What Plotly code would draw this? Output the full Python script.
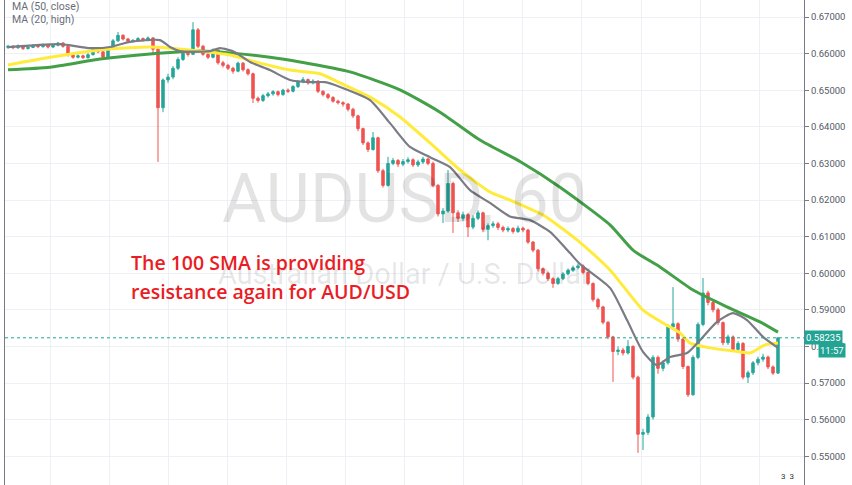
import plotly.graph_objects as go

# ---------------- data (AUD/USD, 60 min candles) ----------------
open_ = [0.6617, 0.6620, 0.6616, 0.6621, 0.6614, 0.6617, 0.6622, 0.6619, 0.6624, 0.6618,
         0.6623, 0.6629, 0.6620, 0.6596, 0.6590, 0.6594, 0.6589, 0.6597, 0.6612, 0.6605,
         0.6591, 0.6612, 0.6635, 0.6650, 0.6640, 0.6634, 0.6636, 0.6641, 0.6637, 0.6643,
         0.6612, 0.6452, 0.6528, 0.6536, 0.6560, 0.6584, 0.6601, 0.6598, 0.6665, 0.6620,
         0.6598, 0.6590, 0.6610, 0.6575, 0.6568, 0.6560, 0.6552, 0.6574, 0.6556, 0.6545,
         0.6478, 0.6472, 0.6485, 0.6490, 0.6496, 0.6488, 0.6500, 0.6497, 0.6510, 0.6524,
         0.6529, 0.6520, 0.6525, 0.6497, 0.6488, 0.6480, 0.6470, 0.6466, 0.6462, 0.6448,
         0.6430, 0.6395, 0.6356, 0.6338, 0.6370, 0.6280, 0.6240, 0.6300, 0.6308, 0.6298,
         0.6305, 0.6310, 0.6296, 0.6304, 0.6312, 0.6300, 0.6240, 0.6162, 0.6170, 0.6245,
         0.6165, 0.6150, 0.6160, 0.6126, 0.6150, 0.6165, 0.6120, 0.6130, 0.6135, 0.6125,
         0.6118, 0.6122, 0.6114, 0.6123, 0.6118, 0.6085, 0.6063, 0.6012, 0.6000, 0.5985,
         0.5972, 0.5985, 0.5998, 0.6008, 0.6015, 0.6020, 0.6002, 0.5972, 0.5928, 0.5908,
         0.5866, 0.5826, 0.5786, 0.5790, 0.5782, 0.5800, 0.5716, 0.5560, 0.5565, 0.5607,
         0.5770, 0.5740, 0.5755, 0.5853, 0.5862, 0.5820, 0.5745, 0.5668, 0.5770, 0.5860,
         0.5946, 0.5920, 0.5900, 0.5865, 0.5810, 0.5826, 0.5792, 0.5808, 0.5716, 0.5728,
         0.5755, 0.5765, 0.5771, 0.5744, 0.5727]

close = [0.6620, 0.6616, 0.6621, 0.6614, 0.6617, 0.6622, 0.6619, 0.6624, 0.6618, 0.6623,
         0.6629, 0.6620, 0.6596, 0.6590, 0.6594, 0.6589, 0.6597, 0.6612, 0.6605, 0.6591,
         0.6612, 0.6635, 0.6650, 0.6640, 0.6634, 0.6636, 0.6641, 0.6637, 0.6643, 0.6612,
         0.6452, 0.6528, 0.6536, 0.6560, 0.6584, 0.6601, 0.6598, 0.6665, 0.6620, 0.6598,
         0.6590, 0.6610, 0.6575, 0.6568, 0.6560, 0.6552, 0.6574, 0.6556, 0.6545, 0.6478,
         0.6472, 0.6485, 0.6490, 0.6496, 0.6488, 0.6500, 0.6497, 0.6510, 0.6524, 0.6529,
         0.6520, 0.6525, 0.6497, 0.6488, 0.6480, 0.6470, 0.6466, 0.6462, 0.6448, 0.6430,
         0.6395, 0.6356, 0.6338, 0.6370, 0.6280, 0.6240, 0.6300, 0.6308, 0.6298, 0.6305,
         0.6310, 0.6296, 0.6304, 0.6312, 0.6300, 0.6240, 0.6162, 0.6170, 0.6245, 0.6165,
         0.6150, 0.6160, 0.6126, 0.6150, 0.6165, 0.6120, 0.6130, 0.6135, 0.6125, 0.6118,
         0.6122, 0.6114, 0.6123, 0.6118, 0.6085, 0.6063, 0.6012, 0.6000, 0.5985, 0.5972,
         0.5985, 0.5998, 0.6008, 0.6015, 0.6020, 0.6002, 0.5972, 0.5928, 0.5908, 0.5866,
         0.5826, 0.5786, 0.5790, 0.5782, 0.5800, 0.5716, 0.5560, 0.5565, 0.5607, 0.5770,
         0.5740, 0.5755, 0.5853, 0.5862, 0.5820, 0.5745, 0.5668, 0.5770, 0.5860, 0.5946,
         0.5920, 0.5900, 0.5865, 0.5810, 0.5826, 0.5792, 0.5808, 0.5716, 0.5728, 0.5755,
         0.5765, 0.5771, 0.5744, 0.5727, 0.58235]

high = [0.6624, 0.6623, 0.6625, 0.6624, 0.6620, 0.6626, 0.6625, 0.6628, 0.6627, 0.6626,
        0.6632, 0.6631, 0.6622, 0.6599, 0.6598, 0.6597, 0.6601, 0.6617, 0.6615, 0.6607,
        0.6615, 0.6640, 0.6659, 0.6653, 0.6643, 0.6640, 0.6645, 0.6644, 0.6647, 0.6645,
        0.6615, 0.6532, 0.6545, 0.6566, 0.6590, 0.6608, 0.6606, 0.6686, 0.6670, 0.6624,
        0.6602, 0.6614, 0.6612, 0.6580, 0.6572, 0.6564, 0.6578, 0.6577, 0.6560, 0.6548,
        0.6483, 0.6490, 0.6495, 0.6500, 0.6499, 0.6504, 0.6505, 0.6514, 0.6528, 0.6536,
        0.6532, 0.6530, 0.6527, 0.6500, 0.6492, 0.6484, 0.6474, 0.6470, 0.6465, 0.6452,
        0.6433, 0.6398, 0.6360, 0.6386, 0.6373, 0.6285, 0.6318, 0.6315, 0.6312, 0.6312,
        0.6317, 0.6314, 0.6310, 0.6318, 0.6316, 0.6305, 0.6244, 0.6178, 0.6282, 0.6250,
        0.6172, 0.6168, 0.6164, 0.6158, 0.6172, 0.6168, 0.6136, 0.6142, 0.6140, 0.6130,
        0.6128, 0.6126, 0.6130, 0.6127, 0.6121, 0.6088, 0.6066, 0.6016, 0.6004, 0.5989,
        0.5990, 0.6003, 0.6013, 0.6021, 0.6026, 0.6024, 0.6005, 0.5975, 0.5933, 0.5911,
        0.5869, 0.5829, 0.5800, 0.5796, 0.5817, 0.5803, 0.5720, 0.5575, 0.5615, 0.5776,
        0.5775, 0.5762, 0.5860, 0.5962, 0.5866, 0.5824, 0.5748, 0.5776, 0.5866, 0.5987,
        0.5952, 0.5926, 0.5905, 0.5868, 0.5832, 0.5830, 0.5814, 0.5812, 0.5734, 0.5760,
        0.5772, 0.5780, 0.5775, 0.5748, 0.58240]

low = [0.6613, 0.6612, 0.6613, 0.6610, 0.6611, 0.6615, 0.6615, 0.6616, 0.6614, 0.6615,
       0.6620, 0.6616, 0.6592, 0.6586, 0.6587, 0.6585, 0.6586, 0.6595, 0.6601, 0.6587,
       0.6589, 0.6610, 0.6632, 0.6636, 0.6630, 0.6630, 0.6633, 0.6633, 0.6634, 0.6600,
       0.6304, 0.6440, 0.6520, 0.6530, 0.6555, 0.6580, 0.6592, 0.6596, 0.6615, 0.6594,
       0.6585, 0.6587, 0.6570, 0.6562, 0.6555, 0.6545, 0.6549, 0.6551, 0.6540, 0.6465,
       0.6466, 0.6468, 0.6480, 0.6485, 0.6483, 0.6485, 0.6492, 0.6494, 0.6506, 0.6519,
       0.6515, 0.6516, 0.6492, 0.6483, 0.6475, 0.6466, 0.6461, 0.6455, 0.6442, 0.6424,
       0.6388, 0.6350, 0.6331, 0.6335, 0.6274, 0.6234, 0.6237, 0.6295, 0.6290, 0.6292,
       0.6300, 0.6290, 0.6290, 0.6298, 0.6295, 0.6235, 0.6155, 0.6137, 0.6165, 0.6110,
       0.6140, 0.6143, 0.6099, 0.6120, 0.6145, 0.6112, 0.6090, 0.6124, 0.6118, 0.6112,
       0.6112, 0.6108, 0.6110, 0.6112, 0.6080, 0.6057, 0.6005, 0.5994, 0.5979, 0.5960,
       0.5968, 0.5981, 0.5994, 0.6003, 0.6010, 0.5997, 0.5967, 0.5922, 0.5901, 0.5860,
       0.5820, 0.5703, 0.5776, 0.5775, 0.5778, 0.5710, 0.5509, 0.5517, 0.5558, 0.5600,
       0.5725, 0.5732, 0.5750, 0.5845, 0.5812, 0.5738, 0.5662, 0.5665, 0.5765, 0.5855,
       0.5912, 0.5893, 0.5858, 0.5803, 0.5804, 0.5785, 0.5787, 0.5710, 0.5700, 0.5722,
       0.5748, 0.5758, 0.5738, 0.5722, 0.5725]

# moving averages (bar index, value)
ma20_high_idx = [0, 10.4, 16.4, 20.4, 24.4, 30.4, 32.4, 34.4, 40.4, 42.4, 45.4, 48.4,
                 52.4, 56.4, 60.4, 63.4, 66.4, 72.4, 76.4, 80.4, 84.4, 88.4, 92.4, 96.4,
                 100.4, 104.4, 108.4, 112.4, 114.4, 120.4, 123.8, 127, 129.8, 132.4,
                 135.8, 138.4, 141.8, 145, 147.8, 151, 154]
ma20_high = [0.6618, 0.6626, 0.6615, 0.6618, 0.6632, 0.6637, 0.6618, 0.6607, 0.6607,
             0.6615, 0.6604, 0.6577, 0.6555, 0.6528, 0.6522, 0.6522, 0.6509, 0.6473,
             0.6410, 0.6345, 0.6317, 0.6290, 0.6227, 0.6192, 0.6155, 0.6145, 0.6113,
             0.6055, 0.6025, 0.5960, 0.5872, 0.5785, 0.5749, 0.5771, 0.5782, 0.5817,
             0.5867, 0.5891, 0.5872, 0.5826, 0.5796]

ma50_close_idx = [0, 8.4, 18.4, 28.4, 32.4, 38.4, 44.4, 50.4, 56.4, 62.4, 66.4, 72.4,
                  78.4, 84.4, 90.4, 96.4, 100.4, 107, 113.8, 120.4, 127, 131, 134.4,
                  136.4, 140.4, 146.4, 148.4, 151.4, 154]
ma50_close = [0.6569, 0.6590, 0.6610, 0.6618, 0.6615, 0.6607, 0.6596, 0.6574, 0.6555,
              0.6545, 0.6520, 0.6481, 0.6427, 0.6356, 0.6282, 0.6222, 0.6200, 0.6159,
              0.6091, 0.6009, 0.5899, 0.5864, 0.5837, 0.5809, 0.5796, 0.5785, 0.5782,
              0.5804, 0.5809]

ma100_close_idx = [0, 8.4, 18.4, 28.4, 38.4, 44.4, 52.4, 58.4, 68.4, 78.4, 86.4, 94.4,
                   102.4, 110.4, 120.4, 125, 130.4, 137, 143.8, 150.4, 154]
ma100_close = [0.6556, 0.6563, 0.6585, 0.6599, 0.6607, 0.6602, 0.6590, 0.6577, 0.6550,
               0.6501, 0.6440, 0.6364, 0.6305, 0.6235, 0.6132, 0.6063, 0.6017, 0.5954,
               0.5908, 0.5867, 0.5839]

last_price = 0.58235
price_ticks = [0.55, 0.56, 0.57, 0.58, 0.59, 0.60, 0.61, 0.62, 0.63, 0.64, 0.65, 0.66, 0.67]

bars = list(range(len(close)))

UP = "#26a69a"
DOWN = "#ef5350"
TEAL = "#22a393"

fig = go.Figure()

fig.add_trace(go.Candlestick(
    x=bars, open=open_, high=high, low=low, close=close,
    increasing=dict(line=dict(color=UP, width=1), fillcolor=UP),
    decreasing=dict(line=dict(color=DOWN, width=1), fillcolor=DOWN),
    whiskerwidth=0, showlegend=False, hoverinfo="skip",
))

fig.add_trace(go.Scatter(x=ma100_close_idx, y=ma100_close, mode="lines",
                         line=dict(color="#43a047", width=3, shape="spline", smoothing=0.6),
                         showlegend=False, hoverinfo="skip"))
fig.add_trace(go.Scatter(x=ma50_close_idx, y=ma50_close, mode="lines",
                         line=dict(color="#ffeb3b", width=3, shape="spline", smoothing=0.6),
                         showlegend=False, hoverinfo="skip"))
fig.add_trace(go.Scatter(x=ma20_high_idx, y=ma20_high, mode="lines",
                         line=dict(color="#7a7b84", width=2.2, shape="spline", smoothing=0.6),
                         showlegend=False, hoverinfo="skip"))

# current price dotted line
fig.add_shape(type="line", xref="paper", x0=0, x1=1, yref="y", y0=last_price, y1=last_price,
              line=dict(color=TEAL, width=1, dash="dot"))

annotations = [
    # watermark
    dict(text="AUDUSD, 60", xref="paper", yref="paper", x=0.50, y=0.59,
         showarrow=False, font=dict(family="Roboto", size=68, color="rgba(0,0,0,0.11)")),
    dict(text="Australian Dollar / U.S. Dollar", xref="paper", yref="paper", x=0.50, y=0.435,
         showarrow=False, font=dict(family="Roboto", size=29, color="rgba(0,0,0,0.11)")),
    # indicator legend
    dict(text="MA (50, close)", xref="paper", yref="paper", x=0.006, y=1.0, xanchor="left",
         yanchor="middle", yshift=-6, showarrow=False,
         font=dict(family="Roboto", size=10.5, color="#6a6d78")),
    dict(text="MA (20, high)", xref="paper", yref="paper", x=0.006, y=1.0, xanchor="left",
         yanchor="middle", yshift=-19, showarrow=False,
         font=dict(family="Roboto", size=10.5, color="#6a6d78")),
    # commentary
    dict(text="The 100 SMA is providing", xref="paper", yref="paper", x=0.155, y=0.458,
         xanchor="left", yanchor="middle", showarrow=False,
         font=dict(family="Open Sans", size=19.5, color="#ea1c24", weight=600)),
    dict(text="resistance again for AUD/USD", xref="paper", yref="paper", x=0.155, y=0.398,
         xanchor="left", yanchor="middle", showarrow=False,
         font=dict(family="Open Sans", size=19.5, color="#ea1c24", weight=600)),
    # price labels
    dict(text="0.58235", xref="paper", yref="y", x=1.0, y=last_price, xanchor="left",
         yanchor="middle", showarrow=False, bgcolor=TEAL, borderpad=1,
         font=dict(family="Roboto", size=9.5, color="white")),
    dict(text="11:57", xref="paper", yref="y", x=1.0, y=last_price, xanchor="left",
         yanchor="middle", xshift=14, yshift=-13, showarrow=False, bgcolor=TEAL, borderpad=1,
         font=dict(family="Roboto", size=9.5, color="white")),
    # small badge at bottom right
    dict(text="3  3", xref="paper", yref="paper", x=0.99, y=0.0, xanchor="right",
         yanchor="bottom", yshift=2, showarrow=False,
         font=dict(family="Roboto", size=8, color="#333333")),
]

fig.update_layout(
    width=852, height=485,
    margin=dict(l=5, r=48, t=0, b=0),
    paper_bgcolor="white", plot_bgcolor="white",
    annotations=annotations,
    showlegend=False,
    xaxis=dict(range=[-0.6, 159.2], showticklabels=False, showgrid=True,
               gridcolor="#edf1f6", gridwidth=1, tick0=8.4, dtick=11.82,
               zeroline=False, showline=False, rangeslider=dict(visible=False),
               fixedrange=True),
    yaxis=dict(side="right", range=[0.54213, 0.67465], tickvals=price_ticks,
               tickformat=".5f", showgrid=True, gridcolor="#edf1f6", gridwidth=1,
               ticks="outside", ticklen=4, tickcolor="#787b86",
               showline=True, linecolor="#787b86", linewidth=1, mirror=True,
               zeroline=False, automargin=False,
               tickfont=dict(family="Roboto", size=9.5, color="#555a66")),
)

fig.write_html("out.html", config={"displayModeBar": False},
               post_script="document.body.style.margin='0';")
